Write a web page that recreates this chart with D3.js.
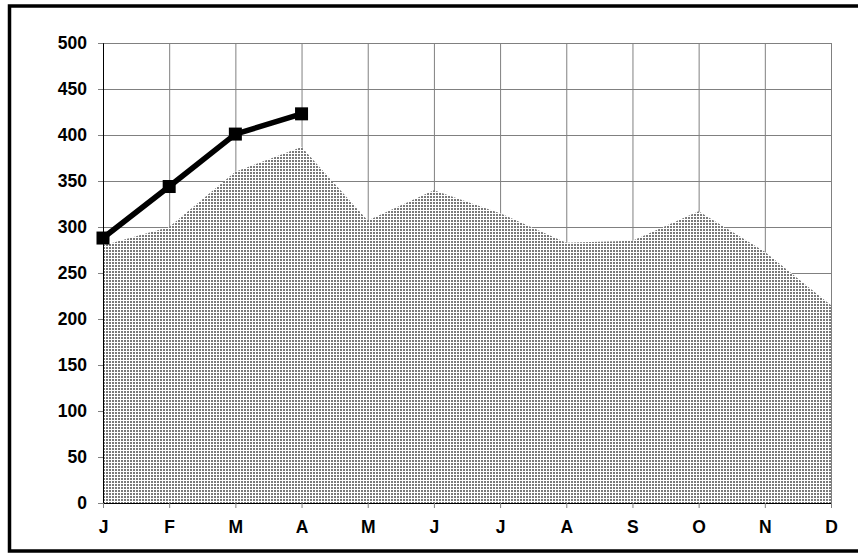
<!DOCTYPE html>
<html>
<head>
<meta charset="utf-8">
<script src="https://cdn.jsdelivr.net/npm/d3@7"></script>
<style>
  body { margin: 0; background: #fff; }
  text { font-family: "Liberation Sans", Arial, sans-serif; font-weight: bold; }
</style>
</head>
<body>
<div id="wrapper"></div>
<script>
// data
const months = ["J", "F", "M", "A", "M", "J", "J", "A", "S", "O", "N", "D"]
const areaValues = [280, 300, 360, 387, 307, 340, 315, 283, 285, 317, 273, 215]
const lineValues = [288, 344, 401, 423]
const yTicks = [0, 50, 100, 150, 200, 250, 300, 350, 400, 450, 500]

const dimensions = {
  width: 858,
  height: 554,
  margin: { top: 43, right: 27, bottom: 51, left: 103 },
}
dimensions.boundedWidth = dimensions.width - dimensions.margin.left - dimensions.margin.right
dimensions.boundedHeight = dimensions.height - dimensions.margin.top - dimensions.margin.bottom

const svg = d3.select("#wrapper")
  .append("svg")
  .attr("width", dimensions.width)
  .attr("height", dimensions.height)

// stipple fill
const pattern = svg.append("defs")
  .append("pattern")
  .attr("id", "stipple")
  .attr("patternUnits", "userSpaceOnUse")
  .attr("width", 3)
  .attr("height", 3)
pattern.append("rect").attr("width", 3).attr("height", 3).attr("fill", "#fff")
pattern.append("rect").attr("width", 2).attr("height", 2).attr("fill", "#7a7a7a")

// chart border
svg.append("rect")
  .attr("x", 9.5)
  .attr("y", 6)
  .attr("width", 870)
  .attr("height", 545)
  .attr("fill", "none")
  .attr("stroke", "#000")
  .attr("stroke-width", 3.5)

const bounds = svg.append("g")
  .attr("transform", `translate(${dimensions.margin.left},${dimensions.margin.top})`)

const xScale = d3.scalePoint()
  .domain(d3.range(months.length))
  .range([0, dimensions.boundedWidth])

const yScale = d3.scaleLinear()
  .domain([0, 500])
  .range([dimensions.boundedHeight, 0])

// grid
const yGrid = bounds.append("g")
  .call(d3.axisLeft(yScale).tickValues(yTicks).tickSize(-dimensions.boundedWidth).tickFormat(""))
yGrid.selectAll(".domain").remove()
yGrid.selectAll(".tick line").attr("stroke", "#808080")

const xGrid = bounds.append("g")
  .call(d3.axisTop(xScale).tickSize(-dimensions.boundedHeight).tickFormat(""))
xGrid.selectAll(".domain").remove()
xGrid.selectAll(".tick line").attr("stroke", "#808080")

// area
const areaGen = d3.area()
  .x((d, i) => xScale(i))
  .y0(yScale(0))
  .y1(d => yScale(d))
bounds.append("path")
  .datum(areaValues)
  .attr("d", areaGen)
  .attr("fill", "url(#stipple)")

// axes
const yAxis = bounds.append("g")
  .call(d3.axisLeft(yScale).tickValues(yTicks).tickSize(5).tickPadding(11))
yAxis.select(".domain").attr("stroke", "#000")
yAxis.selectAll(".tick line").attr("stroke", "#808080")
yAxis.selectAll(".tick text")
  .attr("fill", "#000")
  .style("font-size", "17.5px")

const xAxis = bounds.append("g")
  .attr("transform", `translate(0,${dimensions.boundedHeight})`)
  .call(d3.axisBottom(xScale).tickSize(5).tickPadding(13).tickFormat(i => months[i]))
xAxis.select(".domain").attr("stroke", "#000")
xAxis.selectAll(".tick line").attr("stroke", "#808080")
xAxis.selectAll(".tick text")
  .attr("fill", "#000")
  .style("font-size", "17.5px")

// line with square markers
const lineGen = d3.line()
  .x((d, i) => xScale(i))
  .y(d => yScale(d))
bounds.append("path")
  .datum(lineValues)
  .attr("d", lineGen)
  .attr("fill", "none")
  .attr("stroke", "#000")
  .attr("stroke-width", 5.5)
  .attr("stroke-linejoin", "round")

const markerSize = 13
bounds.selectAll(".marker")
  .data(lineValues)
  .join("rect")
  .attr("class", "marker")
  .attr("x", (d, i) => xScale(i) - markerSize / 2)
  .attr("y", d => yScale(d) - markerSize / 2)
  .attr("width", markerSize)
  .attr("height", markerSize)
  .attr("fill", "#000")
</script>
</body>
</html>
